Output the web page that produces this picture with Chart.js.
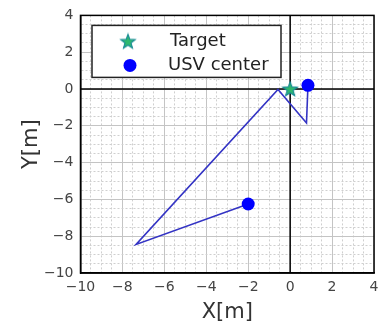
<!DOCTYPE html>
<html>
<head>
<meta charset="utf-8">
<script src="https://cdn.jsdelivr.net/npm/chart.js@4/dist/chart.umd.min.js"></script>
<style>
  html, body { margin: 0; padding: 0; background: #fff; }
  #wrap { width: 390px; height: 322px; }
</style>
</head>
<body>
<div id="wrap"><canvas id="trajChart" width="390" height="322"></canvas></div>
<script>
// Trayectoria del USV (x, y en metros)
const pathX = [-2.0, -7.35, -0.58, 0.78, 0.85];
const pathY = [-6.25, -8.45, -0.03, -1.85, 0.2];
// Posiciones del centro del USV (inicio y fin)
const usvX = [-2.0, 0.85];
const usvY = [-6.25, 0.2];
// Objetivo
const targetX = [0];
const targetY = [0];
// Ejes
const xRange = [-10, 4];
const yRange = [-10, 4];
const majorStep = 2;
const minorStep = 0.5;

const tickFont = "'DejaVu Sans', sans-serif";

// Estrella de cinco puntas para el marcador "Target"
function makeStar(size) {
    const c = document.createElement('canvas');
    c.width = size; c.height = size;
    const g = c.getContext('2d');
    const cx = size / 2, cy = size / 2 + 0.5;
    const ro = size / 2 - 1.5, ri = ro * 0.42;
    g.beginPath();
    for (let i = 0; i < 10; i++) {
        const r = i % 2 === 0 ? ro : ri;
        const a = -Math.PI / 2 + i * Math.PI / 5;
        const px = cx + r * Math.cos(a), py = cy + r * Math.sin(a);
        if (i === 0) g.moveTo(px, py); else g.lineTo(px, py);
    }
    g.closePath();
    g.fillStyle = '#2fb86e';
    g.fill();
    g.lineWidth = 1.2;
    g.strokeStyle = '#1c8f96';
    g.stroke();
    return c;
}
const starImg = makeStar(18);

const toPts = (xs, ys) => xs.map((x, i) => ({ x: x, y: ys[i] }));
const isMajor = v => Math.abs(v % majorStep) < 1e-6;
const fmt = v => (v < 0 ? '\u2212' + Math.abs(v) : String(v));

function gridOpts() {
    return {
        drawTicks: false,
        color: ctx => {
            const v = ctx.tick ? ctx.tick.value : 1;
            return isMajor(v) ? '#c4c4c4' : '#cfcfcf';
        },
        lineWidth: 1
    };
}
function borderOpts() {
    return {
        color: '#000',
        width: 1.5,
        dash: ctx => {
            if (!ctx.tick) return [];
            return isMajor(ctx.tick.value) ? [] : [2, 2];
        }
    };
}

// Ejes en cero, marco y leyenda dentro del área del gráfico
const framePlugin = {
    id: 'frame',
    beforeDatasetsDraw(chart) {
        const { ctx, chartArea: a, scales } = chart;
        const x0 = scales.x.getPixelForValue(0);
        const y0 = scales.y.getPixelForValue(0);
        ctx.save();
        ctx.strokeStyle = '#000';
        ctx.lineWidth = 1.5;
        ctx.beginPath();
        ctx.moveTo(x0, a.top); ctx.lineTo(x0, a.bottom);
        ctx.moveTo(a.left, y0); ctx.lineTo(a.right, y0);
        ctx.stroke();
        ctx.restore();
    },
    afterDatasetsDraw(chart) {
        const { ctx, chartArea: a } = chart;
        ctx.save();
        ctx.strokeStyle = '#000';
        ctx.lineWidth = 1.5;
        ctx.strokeRect(a.left, a.top, a.right - a.left, a.bottom - a.top);

        // Leyenda
        const bx = a.left + 11.5, by = a.top + 10, bw = 189, bh = 52;
        ctx.fillStyle = '#fff';
        ctx.fillRect(bx, by, bw, bh);
        ctx.strokeStyle = '#222';
        ctx.lineWidth = 1.5;
        ctx.strokeRect(bx, by, bw, bh);

        ctx.drawImage(starImg, bx + 36 - 9, by + 16 - 9);
        ctx.fillStyle = '#0000ff';
        ctx.beginPath();
        ctx.arc(bx + 38, by + 40, 6.5, 0, Math.PI * 2);
        ctx.fill();

        ctx.fillStyle = '#222';
        ctx.font = "18px " + tickFont;
        ctx.textBaseline = 'middle';
        ctx.fillText(chart.data.datasets[2].label, bx + 78, by + 16);
        ctx.fillText(chart.data.datasets[1].label, bx + 76, by + 40);
        ctx.restore();
    }
};

const ctx = document.getElementById('trajChart').getContext('2d');
new Chart(ctx, {
    type: 'scatter',
    data: {
        datasets: [
            {
                label: 'path',
                data: toPts(pathX, pathY),
                showLine: true,
                borderColor: '#3434c4',
                borderWidth: 1.6,
                pointRadius: 0,
                fill: false,
                order: 3
            },
            {
                label: 'USV center',
                data: toPts(usvX, usvY),
                showLine: false,
                pointRadius: 6.5,
                pointBackgroundColor: '#0000ff',
                pointBorderColor: '#0000ff',
                borderWidth: 0,
                order: 2
            },
            {
                label: 'Target',
                data: toPts(targetX, targetY),
                showLine: false,
                pointStyle: starImg,
                pointRadius: 9,
                order: 1
            }
        ]
    },
    options: {
        responsive: false,
        animation: false,
        events: [],
        layout: { padding: { top: 15, right: 16, left: 0, bottom: 0 } },
        plugins: {
            legend: { display: false },
            tooltip: { enabled: false }
        },
        scales: {
            x: {
                type: 'linear',
                min: xRange[0],
                max: xRange[1],
                afterFit: s => { s.height = 49; },
                ticks: {
                    stepSize: minorStep,
                    autoSkip: false,
                    maxRotation: 0,
                    padding: 6,
                    color: '#444',
                    font: { family: tickFont, size: 14 },
                    callback: v => (isMajor(v) ? fmt(v) : '')
                },
                grid: gridOpts(),
                border: borderOpts(),
                title: {
                    display: true,
                    text: 'X[m]',
                    color: '#333',
                    font: { family: tickFont, size: 21 },
                    padding: { top: 0, bottom: -3 }
                }
            },
            y: {
                type: 'linear',
                min: yRange[0],
                max: yRange[1],
                afterFit: s => { s.width = 80.5; },
                ticks: {
                    stepSize: minorStep,
                    autoSkip: false,
                    padding: 7,
                    color: '#444',
                    font: { family: tickFont, size: 14 },
                    callback: v => (isMajor(v) ? fmt(v) : '')
                },
                grid: gridOpts(),
                border: borderOpts(),
                title: {
                    display: true,
                    text: 'Y[m]',
                    color: '#333',
                    font: { family: tickFont, size: 21 },
                    padding: { top: 19, bottom: 0 }
                }
            }
        }
    },
    plugins: [framePlugin]
});
</script>
</body>
</html>
